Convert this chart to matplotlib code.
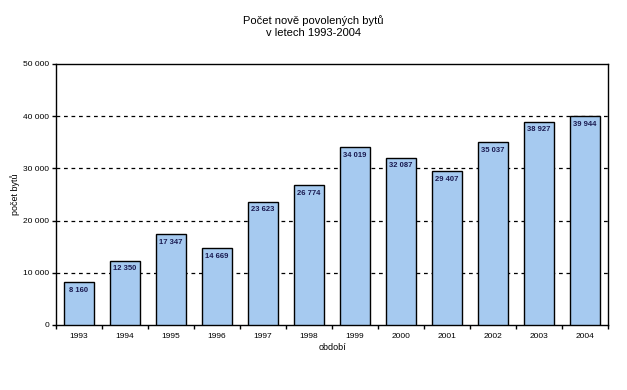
import matplotlib
matplotlib.use("Agg")
import matplotlib.pyplot as plt
from matplotlib.ticker import FuncFormatter, FixedLocator

years = ["1993", "1994", "1995", "1996", "1997", "1998",
         "1999", "2000", "2001", "2002", "2003", "2004"]
values = [8160, 12350, 17347, 14669, 23623, 26774,
          34019, 32087, 29407, 35037, 38927, 39944]
y_ticks = [0, 10000, 20000, 30000, 40000, 50000]

title = "Počet nově povolených bytů\nv letech 1993-2004"
x_label = "období"
y_label = "počet bytů"

plt.rcParams["font.family"] = ["Liberation Sans", "DejaVu Sans"]


def fmt_space(v, _pos=None):
    return f"{int(v):,}".replace(",", " ")


fig = plt.figure(figsize=(6.27, 3.90), dpi=100)
ax = fig.add_axes([0.0893, 0.1667, 0.8804, 0.6692])

x = list(range(len(years)))
ax.bar(x, values, width=0.67, color="#A6CAF0", edgecolor="black",
       linewidth=1.0, zorder=3)

# popisky hodnot uvnitř sloupců
for xi, v in zip(x, values):
    ax.text(xi, v - 900, fmt_space(v), ha="center", va="top",
            fontsize=5.5, fontweight="bold", color="#1a1a50", zorder=4)

ax.set_xlim(-0.5, len(years) - 0.5)
ax.set_ylim(0, 50000)
ax.yaxis.set_major_locator(FixedLocator(y_ticks))
ax.yaxis.set_major_formatter(FuncFormatter(fmt_space))
ax.set_xticks(x)
ax.set_xticklabels(years)
ax.xaxis.set_minor_locator(FixedLocator([i - 0.5 for i in range(len(years) + 1)]))
ax.tick_params(axis="x", which="major", length=0, labelsize=6, pad=6)
ax.tick_params(axis="x", which="minor", length=3, width=1, direction="out")
ax.tick_params(axis="y", length=3, width=1, direction="out", labelsize=6, pad=2)

for yv in y_ticks[1:-1]:
    ax.axhline(yv, color="black", linestyle=(0, (3, 3)), linewidth=0.9, zorder=1)

for s in ax.spines.values():
    s.set_linewidth(1.0)

ax.set_xlabel(x_label, fontsize=6.5, labelpad=2)
ax.set_ylabel(y_label, fontsize=6.5, labelpad=2)
fig.text(0.5, 0.932, title, ha="center", va="center", fontsize=8,
         linespacing=1.3)

fig.savefig("out.png", dpi=100, facecolor="white")
